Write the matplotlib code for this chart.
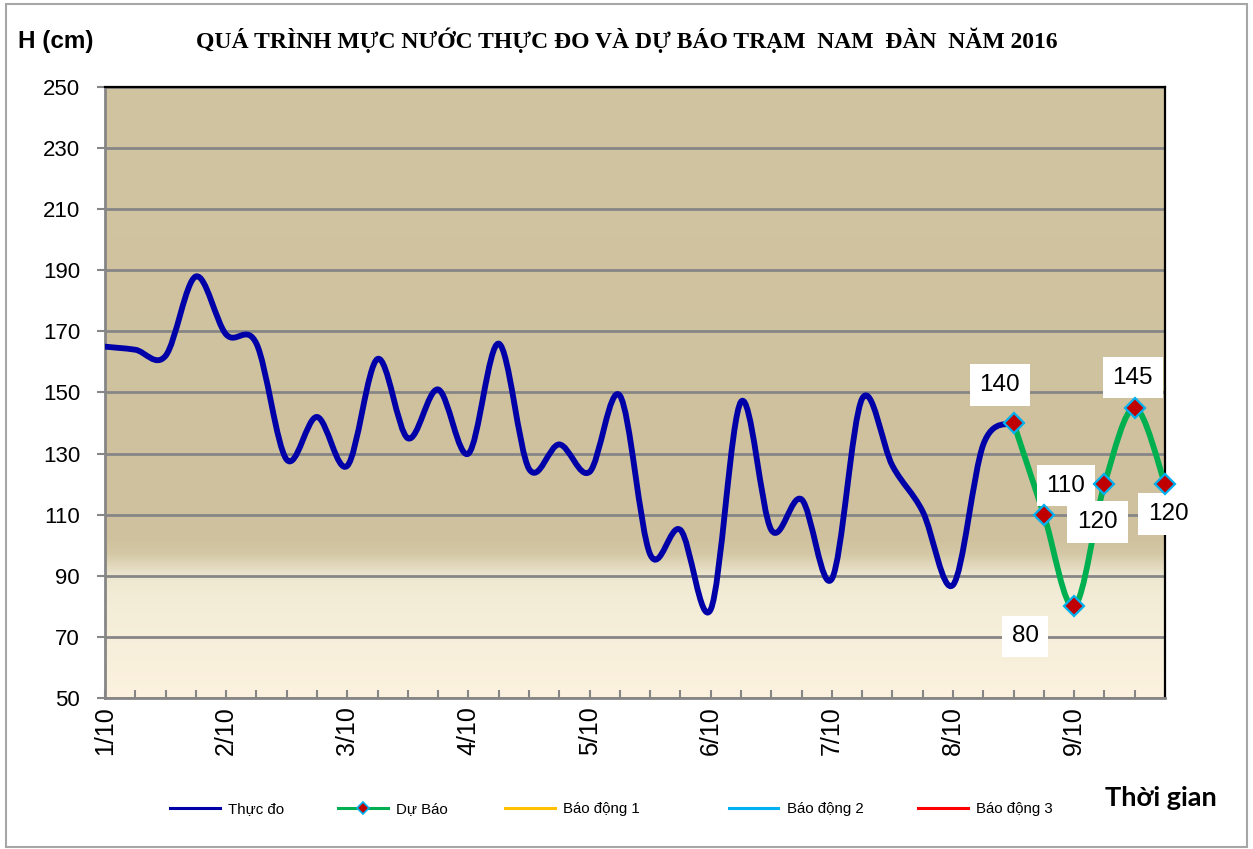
import numpy as np
import matplotlib
matplotlib.use("Agg")
import matplotlib.pyplot as plt
from matplotlib.path import Path
from matplotlib.patches import PathPatch, Rectangle
from matplotlib.lines import Line2D
from matplotlib.colors import LinearSegmentedColormap

# ---------------- data ----------------
TITLE = "QUÁ TRÌNH MỰC NƯỚC THỰC ĐO VÀ DỰ BÁO TRẠM  NAM  ĐÀN  NĂM 2016"
DAY_LABELS = ["1/10", "2/10", "3/10", "4/10", "5/10", "6/10", "7/10", "8/10", "9/10"]
STEPS_PER_DAY = 4  # 6-hourly observations

# observed water level (cm), one value per 6h, index 0 = 1/10 00h
OBSERVED = [165, 164, 162, 188, 169, 166, 128, 142, 126, 161,
            135, 151, 130, 166, 125, 133, 124, 149, 97, 105,
            79, 147, 105, 115, 89, 148, 126, 111, 87, 133, 140]
# forecast water level (cm), starts at last observed step
FORECAST_START = 30
FORECAST = [140, 110, 80, 120, 145, 120]

LEGEND_NAMES = ["Thực đo", "Dự Báo", "Báo động 1", "Báo động 2", "Báo động 3"]

# ---------------- style ----------------
OBS_COLOR = "#0000A8"
FC_COLOR = "#00B050"
ALARM_COLORS = ["#FFC000", "#00B0F0", "#FF0000"]
GRID_COLOR = "#868686"

# label offsets in pixels (dx, dy) for forecast data labels
LABEL_OFFSETS = [(-14, 38), (22, 29), (-49, -30), (-7, -38), (-2, 30), (3, -30)]

plt.rcParams["font.family"] = ["Liberation Sans", "DejaVu Sans"]


def smooth_path(x, y):
    """Excel-like smoothed line as cubic Bezier path through the points."""
    pts = np.column_stack([x, y]).astype(float)
    n = len(pts)
    verts = [pts[0]]
    codes = [Path.MOVETO]
    for i in range(n - 1):
        p0 = pts[max(i - 1, 0)]
        p1 = pts[i]
        p2 = pts[i + 1]
        p3 = pts[min(i + 2, n - 1)]
        c1 = p1 + (p2 - p0) / 6.0
        c2 = p2 - (p3 - p1) / 6.0
        verts += [c1, c2, p2]
        codes += [Path.CURVE4] * 3
    return Path(np.array(verts), codes)


fig = plt.figure(figsize=(12.53, 8.49), dpi=100)
fig.patch.set_facecolor("white")
ax = fig.add_axes([0.0838, 0.1779, 0.8460, 0.7196])

n_steps = FORECAST_START + len(FORECAST) - 1
ax.set_xlim(0, n_steps)
ax.set_ylim(50, 250)

# gradient background
cmap = LinearSegmentedColormap.from_list(
    "bg", [(0.0, "#FCF2DF"), (0.17, "#F2ECD6"), (0.20, "#EDE6CF"),
           (0.235, "#D4C8A6"), (0.26, "#CFC19D"), (1.0, "#D1C4A1")])
grad = np.linspace(0, 1, 256).reshape(-1, 1)
ax.imshow(grad, cmap=cmap, origin="lower", aspect="auto",
          extent=[0, 1, 0, 1], transform=ax.transAxes, zorder=0)

# grid
ax.set_yticks(np.arange(50, 251, 20))
ax.yaxis.grid(True, color=GRID_COLOR, linewidth=2, zorder=1)
ax.set_axisbelow(True)

# observed
x_obs = np.arange(len(OBSERVED))
ax.add_patch(PathPatch(smooth_path(x_obs, OBSERVED), facecolor="none",
                       edgecolor=OBS_COLOR, linewidth=4.2, capstyle="round",
                       joinstyle="round", zorder=3))
# forecast
x_fc = np.arange(FORECAST_START, FORECAST_START + len(FORECAST))
ax.add_patch(PathPatch(smooth_path(x_fc, FORECAST), facecolor="none",
                       edgecolor=FC_COLOR, linewidth=4.2, capstyle="round",
                       joinstyle="round", zorder=4))
ax.plot(x_fc, FORECAST, linestyle="none", marker="D", markersize=10,
        markerfacecolor="#C00000", markeredgecolor="#00B0F0",
        markeredgewidth=1.6, zorder=6, clip_on=False)

for xv, yv, (dx, dy) in zip(x_fc, FORECAST, LABEL_OFFSETS):
    ax.annotate(str(yv), (xv, yv), xytext=(dx, dy), textcoords="offset pixels",
                ha="center", va="center", fontsize=17.5, color="black",
                bbox=dict(boxstyle="square,pad=0.4", facecolor="white",
                          edgecolor="none"), zorder=5, annotation_clip=False)

# axes / ticks
ax.set_xticks(np.arange(0, len(DAY_LABELS)) * STEPS_PER_DAY)
ax.set_xticklabels(DAY_LABELS, rotation=90, fontsize=18)
ax.set_xticks(np.arange(0, n_steps + 1), minor=True)
ax.tick_params(axis="x", which="both", direction="in", length=6, width=1.5,
               color=GRID_COLOR, pad=6)
ax.tick_params(axis="y", direction="out", length=6, width=1.5,
               color=GRID_COLOR, labelsize=16, pad=12)
for s in ["left", "bottom"]:
    ax.spines[s].set_color(GRID_COLOR)
    ax.spines[s].set_linewidth(2)
for s in ["top", "right"]:
    ax.spines[s].set_color("black")
    ax.spines[s].set_linewidth(1.6)

# texts
fig.text(0.5, 0.953, TITLE, ha="center", va="center", fontsize=17,
         fontweight="bold", family=["Liberation Serif", "DejaVu Serif"])
fig.text(0.0144, 0.951, "H (cm)", ha="left", va="center", fontsize=17.5,
         fontweight="bold")
fig.text(0.882, 0.060, "Thời gian", ha="left", va="center", fontsize=19.5,
         fontweight="bold", family=["Lato", "DejaVu Sans"])

# legend entries
handles = [Line2D([], [], color=OBS_COLOR, lw=2.2),
           Line2D([], [], color=FC_COLOR, lw=2.2, marker="D", markersize=6,
                  markerfacecolor="#C00000", markeredgecolor="#00B0F0",
                  markeredgewidth=1.2)]
handles += [Line2D([], [], color=c, lw=2.2) for c in ALARM_COLORS]
legend_x = [170, 338, 505, 729, 918]
for h, name, lx in zip(handles, LEGEND_NAMES, legend_x):
    fig.legend(handles=[h], labels=[name], loc="center left",
               bbox_to_anchor=(lx / 1253, 1 - 809 / 849), frameon=False,
               fontsize=10.8, handlelength=3.3, handletextpad=0.55,
               borderpad=0, borderaxespad=0)

# figure border
fig.patches.append(Rectangle((0.005, 0.002), 0.99, 0.993, transform=fig.transFigure,
                             fill=False, edgecolor="#A6A6A6", linewidth=1.5))

fig.savefig("out.png", dpi=100)
